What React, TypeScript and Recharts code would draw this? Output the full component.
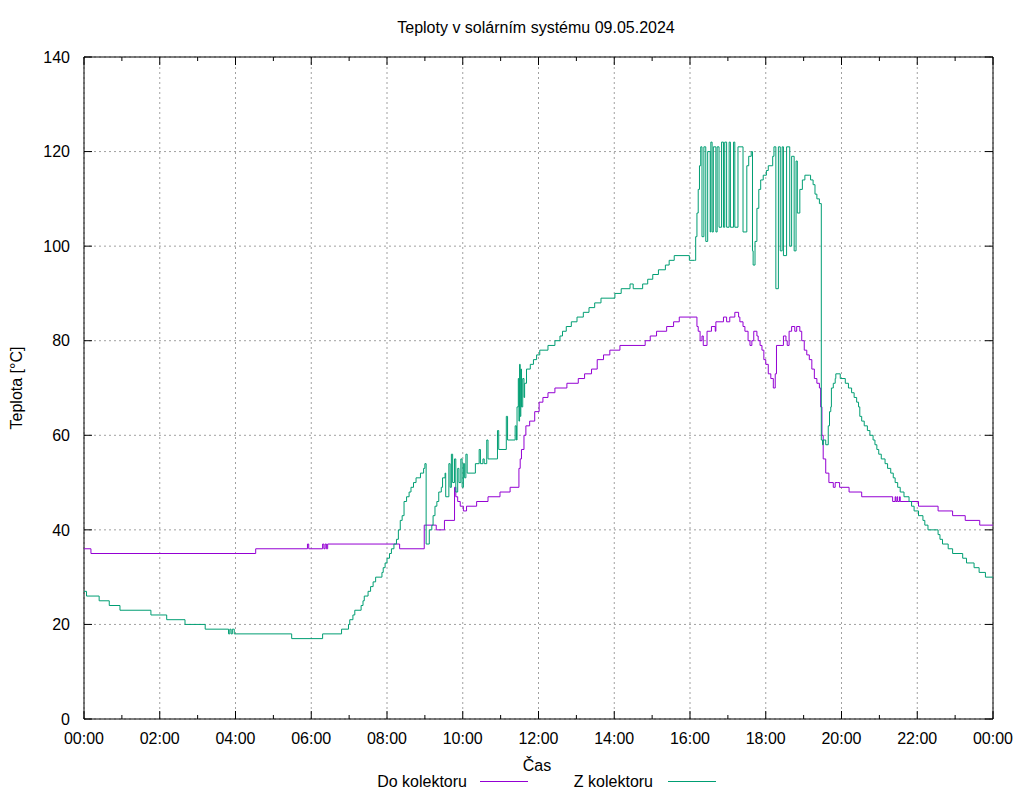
import { LineChart, Line, XAxis, YAxis, CartesianGrid, ReferenceLine, ReferenceArea, Legend } from 'recharts'

// time in minutes from midnight, temperature in °C
const doKolektoru: [number, number][] = [
  [0, 36], [11, 35], [272, 36], [354, 37], [356, 36], [378, 37], [380, 36], [382, 37], [384, 36], [386, 37],
  [500, 36], [539, 41], [558, 40], [571, 42], [587, 49], [589, 47], [592, 46], [596, 45], [601, 44], [606, 45],
  [622, 46], [640, 47], [659, 48], [675, 49], [689, 53], [691, 55], [693, 57], [697, 60], [700, 62], [706, 63],
  [714, 65], [721, 67], [727, 68], [735, 69], [746, 70], [765, 71], [783, 72], [793, 73], [804, 74], [813, 76],
  [823, 77], [833, 78], [849, 79], [889, 80], [897, 81], [907, 82], [923, 83], [934, 84], [943, 85], [971, 83],
  [973, 82], [976, 80], [979, 81], [981, 79], [987, 82], [992, 82], [994, 83], [1000, 82], [1001, 84], [1013, 85],
  [1018, 84], [1023, 85], [1031, 86], [1037, 85], [1039, 84], [1044, 83], [1047, 82], [1052, 80], [1055, 79],
  [1058, 80], [1061, 82], [1066, 81], [1068, 80], [1071, 79], [1074, 78], [1077, 76], [1080, 75], [1084, 73],
  [1088, 72], [1092, 70], [1095, 73], [1097, 79], [1108, 81], [1112, 80], [1114, 79], [1117, 82], [1121, 83],
  [1126, 82], [1129, 83], [1134, 82], [1137, 80], [1141, 78], [1145, 77], [1149, 76], [1153, 74], [1157, 72],
  [1161, 71], [1165, 70], [1167, 66], [1169, 60], [1171, 55], [1175, 52], [1180, 50], [1187, 49], [1190, 50],
  [1194, 50], [1197, 49], [1212, 48], [1232, 47], [1281, 46], [1285, 47], [1286, 46], [1288, 47], [1289, 46],
  [1292, 47], [1293, 46], [1322, 45], [1353, 44], [1376, 43], [1396, 42], [1419, 41], [1440, 41],
]

const zKolektoru: [number, number][] = [
  [0, 27], [4, 26], [24, 25], [40, 24], [57, 23], [106, 22], [131, 21], [160, 20], [192, 19], [229, 18],
  [231, 19], [233, 18], [235, 19], [238, 18], [329, 17], [378, 18], [408, 19], [419, 20], [421, 21], [426, 22],
  [429, 23], [439, 24], [442, 25], [444, 26], [450, 27], [454, 28], [458, 29], [462, 30], [472, 31], [474, 32],
  [477, 33], [480, 34], [484, 35], [487, 36], [491, 37], [495, 38], [498, 40], [501, 42], [504, 43], [507, 46],
  [511, 47], [515, 48], [518, 49], [522, 50], [526, 51], [533, 52], [538, 53], [540, 54], [542, 37], [547, 40],
  [551, 41], [553, 43], [556, 45], [559, 46], [562, 48], [566, 49], [568, 51], [572, 52], [573, 47], [578, 54],
  [580, 49], [582, 56], [584, 50], [587, 55], [589, 48], [592, 53], [594, 50], [597, 55], [599, 49], [601, 54],
  [603, 51], [605, 56], [607, 52], [620, 54], [626, 57], [628, 54], [632, 55], [634, 54], [638, 59], [640, 55],
  [655, 61], [657, 57], [669, 64], [671, 59], [683, 62], [685, 59], [686, 66], [688, 72], [689, 63], [690, 75],
  [691, 64], [692, 74], [693, 66], [695, 72], [697, 68], [698, 71], [701, 74], [707, 75], [712, 76], [717, 77],
  [722, 78], [735, 79], [746, 80], [754, 81], [758, 82], [764, 83], [772, 84], [781, 85], [791, 86], [800, 87],
  [809, 88], [819, 89], [841, 90], [851, 91], [865, 92], [870, 91], [885, 92], [893, 93], [901, 94], [910, 95],
  [921, 96], [927, 97], [935, 98], [959, 97], [967, 97], [969, 102], [971, 107], [973, 112], [975, 117],
  [977, 121], [979, 102], [982, 121], [985, 101], [988, 120], [992, 103], [993, 122], [995, 103], [997, 121],
  [1001, 103], [1003, 121], [1006, 104], [1010, 122], [1013, 104], [1015, 122], [1018, 104], [1022, 122],
  [1024, 104], [1029, 122], [1031, 104], [1036, 121], [1044, 103], [1050, 117], [1053, 119], [1057, 120],
  [1059, 99], [1060, 96], [1063, 101], [1066, 108], [1069, 112], [1072, 114], [1076, 115], [1081, 116],
  [1084, 117], [1091, 119], [1093, 121], [1096, 91], [1100, 121], [1103, 99], [1106, 121], [1108, 98],
  [1113, 121], [1118, 100], [1121, 119], [1125, 99], [1128, 118], [1130, 107], [1134, 112], [1138, 114],
  [1142, 115], [1149, 115], [1151, 114], [1155, 113], [1158, 111], [1161, 110], [1165, 109], [1168, 59],
  [1170, 58], [1171, 59], [1175, 58], [1179, 62], [1181, 65], [1183, 66], [1184, 70], [1187, 71], [1190, 72],
  [1191, 73], [1198, 72], [1206, 71], [1211, 70], [1216, 69], [1220, 68], [1224, 67], [1227, 66], [1229, 64],
  [1232, 63], [1236, 62], [1241, 61], [1245, 60], [1250, 59], [1253, 58], [1256, 57], [1259, 56], [1263, 55],
  [1269, 54], [1273, 53], [1278, 52], [1282, 51], [1285, 50], [1289, 49], [1293, 48], [1299, 47], [1307, 46],
  [1311, 45], [1315, 44], [1322, 43], [1329, 42], [1332, 41], [1337, 40], [1353, 39], [1356, 38], [1360, 37],
  [1369, 36], [1376, 35], [1392, 34], [1398, 33], [1410, 32], [1418, 31], [1428, 30], [1440, 30],
]

const hourTicks = [0, 120, 240, 360, 480, 600, 720, 840, 960, 1080, 1200, 1320, 1440]
const minorTicks = [60, 180, 300, 420, 540, 660, 780, 900, 1020, 1140, 1260, 1380]
const tempTicks = [0, 20, 40, 60, 80, 100, 120, 140]

const FONT = '"Liberation Sans", Arial, sans-serif'
const PURPLE = '#9400d3'
const GREEN = '#009e73'

const doData = doKolektoru.map(([t, v]) => ({ t, v }))
const zData = zKolektoru.map(([t, v]) => ({ t, v }))

const fmtTime = (m: number) => `${String(Math.floor(m / 60) % 24).padStart(2, '0')}:00`

// inward tick marks on bottom and top border (gnuplot style)
const xTickShape = (len: number) => (p: any) => {
  const top = Math.min(p.y1, p.y2)
  const bottom = Math.max(p.y1, p.y2)
  return (
    <g>
      <line x1={p.x1} x2={p.x1} y1={bottom} y2={bottom - len} stroke="#000" />
      <line x1={p.x1} x2={p.x1} y1={top} y2={top + len} stroke="#000" />
    </g>
  )
}

const yTickShape = (p: any) => {
  const left = Math.min(p.x1, p.x2)
  const right = Math.max(p.x1, p.x2)
  return (
    <g>
      <line x1={left} x2={left + 8} y1={p.y1} y2={p.y1} stroke="#000" />
      <line x1={right} x2={right - 8} y1={p.y1} y2={p.y1} stroke="#000" />
    </g>
  )
}

const legendItems = [
  { label: 'Do kolektoru', color: PURPLE, textEnd: 467, lineStart: 480 },
  { label: 'Z kolektoru', color: GREEN, textEnd: 653, lineStart: 668 },
]

const renderLegend = () => (
  <svg width={1024} height={20} style={{ display: 'block' }}>
    {legendItems.map((it) => (
      <g key={it.label}>
        <text x={it.textEnd} y={14} textAnchor="end" fontFamily={FONT} fontSize={16} fill="#000">
          {it.label}
        </text>
        <line x1={it.lineStart} x2={it.lineStart + 48} y1={8.5} y2={8.5} stroke={it.color} strokeWidth={1} />
      </g>
    ))}
  </svg>
)

export default function App() {
  return (
    <div style={{ position: 'absolute', left: 0, top: 0, width: 1024, height: 800, background: '#fff', fontFamily: FONT }}>
      <div style={{ position: 'absolute', left: 536, top: 20, transform: 'translateX(-50%)', fontSize: 16, lineHeight: '16px', whiteSpace: 'nowrap' }}>
        Teploty v solárním systému 09.05.2024
      </div>
      <div style={{ position: 'absolute', left: 17, top: 388, transform: 'translate(-50%, -50%) rotate(-90deg)', fontSize: 16, lineHeight: '16px', whiteSpace: 'nowrap' }}>
        Teplota [°C]
      </div>
      <div style={{ position: 'absolute', left: 537, top: 758, transform: 'translateX(-50%)', fontSize: 16, lineHeight: '16px' }}>
        Čas
      </div>
      <LineChart width={1024} height={800} margin={{ top: 57, right: 31, bottom: 51, left: 0 }}>
        <CartesianGrid stroke="#a0a0a0" strokeDasharray="2 3" />
        <XAxis
          type="number"
          dataKey="t"
          domain={[0, 1440]}
          ticks={hourTicks}
          tickFormatter={fmtTime}
          height={30}
          axisLine={false}
          tickLine={false}
          tickSize={0}
          tickMargin={14}
          tick={{ fill: '#000', fontSize: 16, fontFamily: FONT }}
          allowDataOverflow
        />
        <YAxis
          type="number"
          domain={[0, 140]}
          ticks={tempTicks}
          width={84}
          axisLine={false}
          tickLine={false}
          tickSize={0}
          tickMargin={14}
          tick={{ fill: '#000', fontSize: 16, fontFamily: FONT }}
          allowDataOverflow
        />
        {hourTicks.map((t) => (
          <ReferenceLine key={'h' + t} x={t} shape={xTickShape(8)} />
        ))}
        {minorTicks.map((t) => (
          <ReferenceLine key={'m' + t} x={t} shape={xTickShape(4)} />
        ))}
        {tempTicks.map((v) => (
          <ReferenceLine key={'y' + v} y={v} shape={yTickShape} />
        ))}
        <Line data={doData} dataKey="v" name="Do kolektoru" type="stepAfter" stroke={PURPLE} strokeWidth={1} dot={false} isAnimationActive={false} />
        <Line data={zData} dataKey="v" name="Z kolektoru" type="stepAfter" stroke={GREEN} strokeWidth={1} dot={false} isAnimationActive={false} />
        <ReferenceArea x1={0} x2={1440} y1={0} y2={140} fill="none" fillOpacity={0} stroke="#000" strokeWidth={1} />
        <Legend
          verticalAlign="middle"
          align="center"
          content={renderLegend}
          wrapperStyle={{ left: 0, top: 773, width: 1024 }}
        />
      </LineChart>
    </div>
  )
}
